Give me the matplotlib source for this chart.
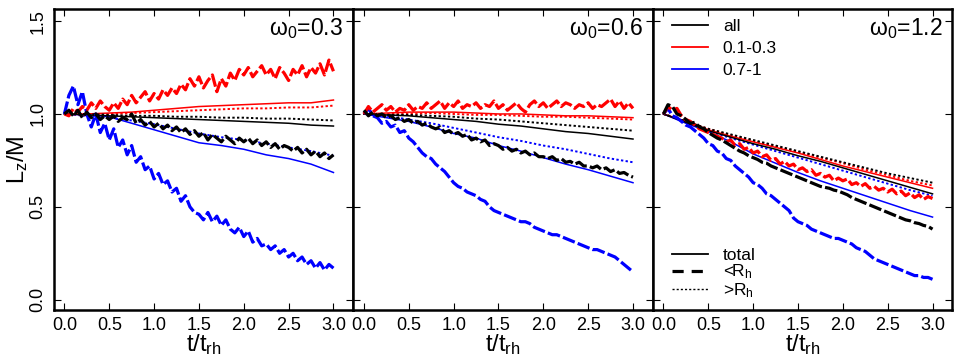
import numpy as np
import matplotlib
matplotlib.use("Agg")
import matplotlib.pyplot as plt
from matplotlib.lines import Line2D

plt.rcParams['font.family'] = ['Liberation Sans', 'DejaVu Sans']
plt.rcParams['mathtext.fontset'] = 'custom'
plt.rcParams['mathtext.rm'] = 'Liberation Sans'
plt.rcParams['mathtext.default'] = 'regular'

omega = ['0.3', '0.6', '1.2']

# smooth curves are read every 0.25 t_rh, the noisy (<R_h) ones every 0.05 t_rh
t_coarse = np.arange(13) * 0.25
t_fine = np.arange(61) * 0.05

# ---- omega0 = 0.3 ----
w03_all_tot = [1.00, 0.995, 0.99, 0.985, 0.98, 0.975, 0.97, 0.965, 0.96, 0.955, 0.95, 0.94, 0.935]
w03_all_out = [1.00, 1.00, 0.995, 0.99, 0.99, 0.985, 0.985, 0.98, 0.98, 0.975, 0.975, 0.97, 0.965]
w03_lo_tot = [1.00, 1.00, 1.005, 1.01, 1.02, 1.03, 1.04, 1.045, 1.05, 1.055, 1.06, 1.06, 1.075]
w03_lo_out = [1.00, 0.995, 1.00, 1.005, 1.01, 1.015, 1.02, 1.025, 1.03, 1.03, 1.035, 1.035, 1.045]
w03_hi_tot = [1.00, 0.995, 0.985, 0.95, 0.915, 0.88, 0.845, 0.83, 0.81, 0.78, 0.76, 0.73, 0.685]
w03_hi_out = [1.00, 0.99, 0.98, 0.965, 0.945, 0.92, 0.895, 0.875, 0.86, 0.84, 0.82, 0.80, 0.775]
w03_all_in = [1.00, 1.02, 0.99, 1.02, 0.98, 1.01, 0.98, 1.00, 0.97, 0.99, 0.97, 0.99, 0.96, 0.98, 0.97,
              1.00, 0.95, 0.97, 0.94, 0.96, 0.93, 0.95, 0.92, 0.94, 0.91, 0.93, 0.90, 0.92, 0.89, 0.91,
              0.88, 0.90, 0.86, 0.89, 0.87, 0.85, 0.88, 0.86, 0.84, 0.87, 0.85, 0.87, 0.84, 0.86, 0.83,
              0.85, 0.82, 0.84, 0.81, 0.83, 0.82, 0.80, 0.82, 0.79, 0.81, 0.78, 0.80, 0.77, 0.79, 0.76,
              0.78]
w03_lo_in = [1.00, 0.99, 1.03, 1.01, 1.04, 1.02, 1.06, 1.03, 1.07, 1.04, 1.02, 1.06, 1.03, 1.08, 1.05,
             1.10, 1.06, 1.09, 1.12, 1.07, 1.11, 1.08, 1.13, 1.10, 1.14, 1.11, 1.16, 1.13, 1.19, 1.15,
             1.20, 1.14, 1.18, 1.21, 1.12, 1.19, 1.15, 1.22, 1.18, 1.24, 1.21, 1.25, 1.20, 1.23, 1.26,
             1.21, 1.24, 1.19, 1.25, 1.22, 1.18, 1.24, 1.21, 1.26, 1.20, 1.25, 1.22, 1.27, 1.21, 1.29,
             1.23]
w03_hi_in = [1.00, 1.10, 1.15, 1.05, 1.12, 1.00, 0.93, 1.00, 0.90, 0.95, 0.86, 0.92, 0.82, 0.86, 0.78,
             0.83, 0.74, 0.77, 0.70, 0.72, 0.65, 0.68, 0.62, 0.64, 0.58, 0.60, 0.53, 0.56, 0.50, 0.47,
             0.46, 0.43, 0.47, 0.42, 0.45, 0.40, 0.43, 0.38, 0.36, 0.39, 0.34, 0.37, 0.31, 0.33, 0.29,
             0.30, 0.27, 0.29, 0.25, 0.27, 0.23, 0.25, 0.21, 0.23, 0.19, 0.21, 0.17, 0.20, 0.16, 0.19,
             0.17]

# ---- omega0 = 0.6 ----
w06_all_tot = [1.00, 0.995, 0.99, 0.98, 0.97, 0.96, 0.945, 0.935, 0.92, 0.905, 0.895, 0.88, 0.865]
w06_all_out = [1.00, 0.995, 0.995, 0.99, 0.985, 0.975, 0.97, 0.96, 0.95, 0.94, 0.93, 0.92, 0.91]
w06_lo_tot = [1.00, 1.005, 1.01, 1.01, 1.01, 1.005, 1.00, 1.00, 0.995, 0.99, 0.99, 0.985, 0.98]
w06_lo_out = [1.00, 1.00, 1.00, 1.005, 1.00, 0.995, 0.995, 0.99, 0.985, 0.985, 0.98, 0.975, 0.97]
w06_hi_tot = [1.00, 0.98, 0.96, 0.93, 0.895, 0.87, 0.83, 0.80, 0.765, 0.73, 0.70, 0.665, 0.63]
w06_hi_out = [1.00, 0.99, 0.97, 0.95, 0.925, 0.90, 0.875, 0.855, 0.83, 0.81, 0.785, 0.76, 0.74]
w06_all_in = [1.02, 0.99, 1.01, 0.99, 1.00, 0.98, 0.99, 0.97, 0.98, 0.96, 0.97, 0.95, 0.96, 0.94, 0.95,
              0.93, 0.92, 0.93, 0.90, 0.91, 0.89, 0.90, 0.88, 0.89, 0.86, 0.87, 0.85, 0.86, 0.83, 0.84,
              0.83, 0.81, 0.82, 0.80, 0.81, 0.79, 0.80, 0.78, 0.79, 0.77, 0.77, 0.76, 0.77, 0.75, 0.76,
              0.74, 0.745, 0.73, 0.74, 0.72, 0.72, 0.71, 0.72, 0.70, 0.71, 0.69, 0.70, 0.68, 0.685, 0.67,
              0.66]
w06_lo_in = [1.00, 1.04, 1.01, 1.03, 1.05, 1.02, 1.04, 1.01, 1.03, 1.02, 1.05, 1.02, 1.04, 1.03, 1.06,
             1.03, 1.05, 1.07, 1.03, 1.06, 1.04, 1.07, 1.03, 1.05, 1.04, 1.06, 1.03, 1.05, 1.04, 1.07,
             1.03, 1.05, 1.02, 1.04, 1.06, 1.03, 1.01, 1.05, 1.07, 1.04, 1.06, 1.03, 1.05, 1.07, 1.04,
             1.06, 1.05, 1.03, 1.05, 1.04, 1.06, 1.03, 1.05, 1.04, 1.06, 1.08, 1.04, 1.07, 1.03, 1.06,
             1.03]
w06_hi_in = [1.00, 1.03, 0.99, 0.98, 0.95, 0.96, 0.93, 0.94, 0.90, 0.91, 0.87, 0.85, 0.82, 0.79, 0.77,
             0.76, 0.73, 0.71, 0.69, 0.66, 0.63, 0.61, 0.60, 0.58, 0.57, 0.56, 0.54, 0.53, 0.50, 0.48,
             0.47, 0.46, 0.45, 0.44, 0.43, 0.42, 0.42, 0.41, 0.39, 0.38, 0.37, 0.36, 0.35, 0.35, 0.34,
             0.33, 0.32, 0.31, 0.30, 0.29, 0.28, 0.27, 0.27, 0.26, 0.25, 0.24, 0.23, 0.21, 0.19, 0.17,
             0.15]

# ---- omega0 = 1.2 ----
w12_all_tot = [1.00, 0.955, 0.91, 0.875, 0.84, 0.81, 0.775, 0.745, 0.71, 0.675, 0.64, 0.605, 0.57]
w12_all_out = [1.00, 0.96, 0.92, 0.89, 0.86, 0.83, 0.80, 0.77, 0.74, 0.71, 0.68, 0.655, 0.63]
w12_lo_tot = [1.00, 0.96, 0.915, 0.88, 0.85, 0.82, 0.79, 0.755, 0.72, 0.69, 0.66, 0.63, 0.60]
w12_lo_out = [1.00, 0.96, 0.92, 0.885, 0.855, 0.825, 0.795, 0.765, 0.735, 0.70, 0.67, 0.64, 0.615]
w12_hi_tot = [1.00, 0.95, 0.905, 0.85, 0.785, 0.735, 0.685, 0.64, 0.60, 0.56, 0.52, 0.48, 0.445]
w12_hi_out = [1.00, 0.96, 0.91, 0.87, 0.835, 0.80, 0.765, 0.73, 0.695, 0.66, 0.625, 0.59, 0.56]
w12_all_in = [1.00, 1.05, 1.04, 1.00, 0.99, 0.97, 0.95, 0.955, 0.93, 0.92, 0.90, 0.885, 0.87, 0.86, 0.845,
              0.83, 0.815, 0.80, 0.79, 0.775, 0.765, 0.755, 0.74, 0.735, 0.72, 0.71, 0.70, 0.69, 0.68, 0.67,
              0.66, 0.65, 0.64, 0.63, 0.62, 0.61, 0.605, 0.60, 0.59, 0.585, 0.575, 0.565, 0.55, 0.54, 0.53,
              0.52, 0.51, 0.50, 0.49, 0.48, 0.47, 0.46, 0.45, 0.44, 0.43, 0.425, 0.415, 0.41, 0.40, 0.395,
              0.38]
w12_lo_in = [1.00, 1.04, 1.02, 1.03, 0.99, 0.97, 0.96, 0.94, 0.92, 0.91, 0.90, 0.89, 0.88, 0.87, 0.85,
             0.86, 0.83, 0.84, 0.81, 0.82, 0.79, 0.80, 0.77, 0.78, 0.75, 0.76, 0.73, 0.745, 0.72, 0.73,
             0.70, 0.71, 0.69, 0.70, 0.67, 0.68, 0.66, 0.67, 0.64, 0.655, 0.64, 0.65, 0.62, 0.63, 0.61,
             0.625, 0.60, 0.61, 0.59, 0.60, 0.58, 0.595, 0.57, 0.585, 0.56, 0.575, 0.55, 0.565, 0.54, 0.555,
             0.545]
w12_hi_in = [1.00, 1.03, 0.99, 0.98, 0.96, 0.94, 0.93, 0.91, 0.89, 0.87, 0.84, 0.83, 0.80, 0.79, 0.76,
             0.75, 0.72, 0.70, 0.68, 0.66, 0.63, 0.62, 0.60, 0.57, 0.56, 0.54, 0.52, 0.50, 0.48, 0.44,
             0.42, 0.41, 0.40, 0.38, 0.37, 0.36, 0.35, 0.34, 0.33, 0.33, 0.32, 0.31, 0.30, 0.28, 0.27,
             0.26, 0.24, 0.22, 0.21, 0.20, 0.19, 0.18, 0.17, 0.16, 0.15, 0.14, 0.13, 0.13, 0.12, 0.12,
             0.11]

panels = [
    {'all': (w03_all_tot, w03_all_in, w03_all_out), 'lo': (w03_lo_tot, w03_lo_in, w03_lo_out),
     'hi': (w03_hi_tot, w03_hi_in, w03_hi_out)},
    {'all': (w06_all_tot, w06_all_in, w06_all_out), 'lo': (w06_lo_tot, w06_lo_in, w06_lo_out),
     'hi': (w06_hi_tot, w06_hi_in, w06_hi_out)},
    {'all': (w12_all_tot, w12_all_in, w12_all_out), 'lo': (w12_lo_tot, w12_lo_in, w12_lo_out),
     'hi': (w12_hi_tot, w12_hi_in, w12_hi_out)},
]
colors = {'all': 'black', 'lo': '#ff0000', 'hi': '#0000ff'}

fig = plt.figure(figsize=(9.58, 3.6), dpi=100)
axes = fig.subplots(1, 3, sharey=True)
fig.subplots_adjust(left=0.056, right=0.994, bottom=0.139, top=0.975, wspace=0)

for ax, data, w in zip(axes, panels, omega):
    # thin solid / dotted lines first, noisy dashed on top
    for key in ['hi', 'lo', 'all']:
        tot, inner, outer = data[key]
        c = colors[key]
        ax.plot(t_coarse, tot, color=c, lw=1.1)
        ax.plot(t_coarse, outer, color=c, lw=1.4, dashes=(1.2, 1.2))
    for key in ['hi', 'lo', 'all']:
        tot, inner, outer = data[key]
        ax.plot(t_fine, inner, color=colors[key], lw=2.3, dashes=(4, 1))

    ax.set_xlim(-0.12, 3.22)
    ax.set_ylim(-0.055, 1.565)
    ax.set_xticks([0, 0.5, 1.0, 1.5, 2.0, 2.5, 3.0])
    ax.set_xticklabels(['0.0', '0.5', '1.0', '1.5', '2.0', '2.5', '3.0'])
    ax.tick_params(direction='in', top=True, right=True, length=5, width=0.8,
                   labelsize=13, pad=5)
    for sp in ax.spines.values():
        sp.set_linewidth(1.8)
    ax.set_xlabel(r't/t$_{rh}$', fontsize=17, labelpad=-1)
    ax.text(0.967, 0.935, r'$\omega_0$=' + w, transform=ax.transAxes,
            ha='right', va='center', fontsize=16.5)

axes[0].set_yticks([0.0, 0.5, 1.0, 1.5])
axes[0].set_yticklabels(['0.0', '0.5', '1.0', '1.5'], rotation=90, va='center')
axes[0].set_ylabel(r'L$_z$/M', fontsize=17, labelpad=0)

ax3 = axes[2]
top_handles = [Line2D([], [], color=colors[k], lw=1.3) for k in ['all', 'lo', 'hi']]
leg1 = ax3.legend(top_handles, ['all', '0.1-0.3', '0.7-1'], loc='upper left',
                  bbox_to_anchor=(0.04, 0.99), frameon=False, fontsize=12.5,
                  handlelength=2.1, handletextpad=0.85, labelspacing=0.4, borderaxespad=0)
ax3.add_artist(leg1)
bot_handles = [Line2D([], [], color='black', lw=1.3),
               Line2D([], [], color='black', lw=2.3, dashes=(3.5, 2.5)),
               Line2D([], [], color='black', lw=1.0, dashes=(1.5, 1.5))]
ax3.legend(bot_handles, ['total', r'<R$_h$', r'>R$_h$'], loc='lower left',
           bbox_to_anchor=(0.04, 0.01), frameon=False, fontsize=12.5,
           handlelength=2.1, handletextpad=0.85, labelspacing=0.0, borderaxespad=0)

fig.savefig('out.png', dpi=100)
